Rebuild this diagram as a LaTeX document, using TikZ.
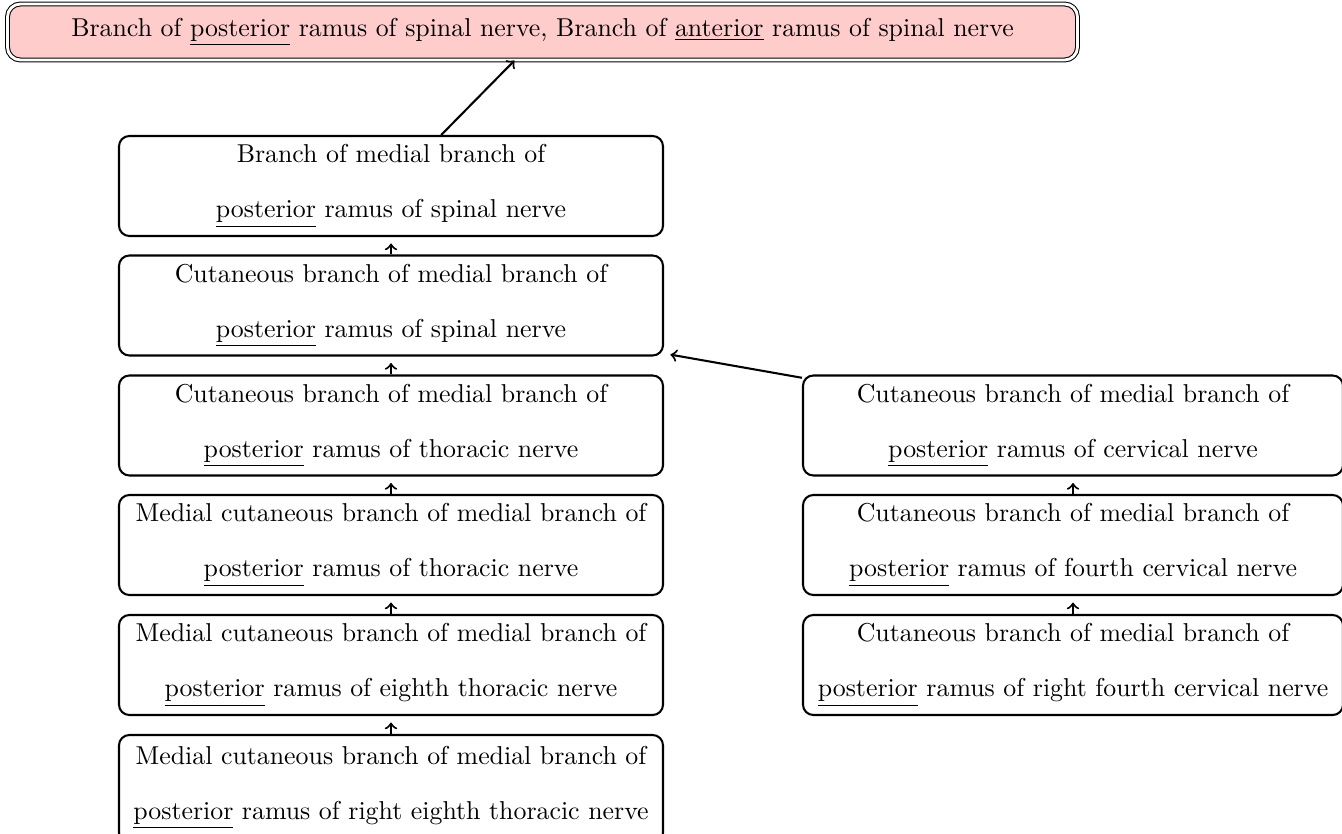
\documentclass[tikz,border=0pt]{standalone}
\usepackage{tikz}

\newcommand{\ul}[1]{\underline{#1}}
\def\u{0.387pt}

\tikzset{
  nbox/.style={draw, thick, rounded corners=4pt, align=center, inner sep=0pt,
    minimum width=544*\u, minimum height=100*\u,
    font=\fontsize{10pt}{21.3pt}\selectfont},
  rbox/.style={nbox, minimum width=540*\u},
  topbox/.style={draw, double, double distance=1.1pt, rounded corners=5pt,
    fill=red!20, inner sep=0pt, minimum width=1070*\u, minimum height=56*\u,
    font=\fontsize{10pt}{12pt}\selectfont},
  arr/.style={->, thick},
  sarr/.style={arr, shorten >=2.5pt}
}

\begin{document}
\begin{tikzpicture}[x=0.387pt, y=-0.387pt]
  \useasboundingbox (0,0) rectangle (1342,833);

  % top-level target
  \node[topbox] (top) at (542.5,32)
    {Branch of \ul{posterior} ramus of spinal nerve, Branch of \ul{anterior} ramus of spinal nerve};

  % left chain
  \node[nbox] (b1) at (391,186)
    {Branch of medial branch of\\\ul{posterior} ramus of spinal nerve};
  \node[nbox] (b2) at (391,305.5)
    {Cutaneous branch of medial branch of\\\ul{posterior} ramus of spinal nerve};
  \node[nbox] (b3) at (391,425.5)
    {Cutaneous branch of medial branch of\\\ul{posterior} ramus of thoracic nerve};
  \node[nbox] (b4) at (391,545)
    {Medial cutaneous branch of medial branch of\\\ul{posterior} ramus of thoracic nerve};
  \node[nbox] (b5) at (391,665)
    {Medial cutaneous branch of medial branch of\\\ul{posterior} ramus of eighth thoracic nerve};
  \node[nbox, minimum height=108*\u, text depth=5pt] (b6) at (391,789)
    {Medial cutaneous branch of medial branch of\\\ul{posterior} ramus of right eighth thoracic nerve};

  % right chain
  \node[rbox] (r1) at (1073,425.5)
    {Cutaneous branch of medial branch of\\\ul{posterior} ramus of cervical nerve};
  \node[rbox] (r2) at (1073,545)
    {Cutaneous branch of medial branch of\\\ul{posterior} ramus of fourth cervical nerve};
  \node[rbox] (r3) at (1073,665)
    {Cutaneous branch of medial branch of\\\ul{posterior} ramus of right fourth cervical nerve};

  % connectors
  \draw[arr] (b1) -- (top);
  \draw[sarr] (b2) -- (b1);
  \draw[sarr] (b3) -- (b2);
  \draw[sarr] (b4) -- (b3);
  \draw[sarr] (b5) -- (b4);
  \draw[sarr] (b6) -- (b5);
  \draw[sarr] (r1) -- (b2);
  \draw[sarr] (r2) -- (r1);
  \draw[sarr] (r3) -- (r2);
\end{tikzpicture}
\end{document}
